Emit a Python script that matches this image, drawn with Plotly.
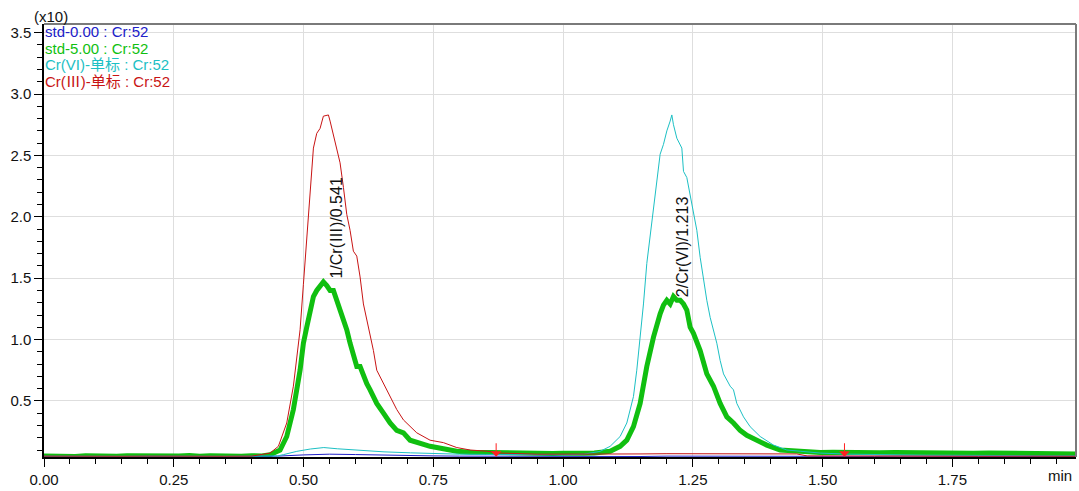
import plotly.graph_objects as go

# ---------------- data (intensity in x10) ----------------
blue_t = [0.00, 0.05, 0.10, 0.15, 0.20, 0.25, 0.30, 0.35, 0.40, 0.45, 0.50, 0.55, 0.60, 0.65,
          0.70, 0.75, 0.80, 0.85, 0.90, 0.95, 1.00, 1.05, 1.10, 1.15, 1.20, 1.25, 1.30, 1.35,
          1.40, 1.45, 1.50, 1.55, 1.60, 1.65, 1.70, 1.75, 1.80, 1.85, 1.90, 1.95, 1.988]
blue_v = [0.048, 0.046, 0.049, 0.047, 0.048, 0.046, 0.049, 0.047, 0.048, 0.050, 0.060, 0.066, 0.063, 0.058,
          0.055, 0.052, 0.050, 0.049, 0.048, 0.050, 0.047, 0.049, 0.048, 0.047, 0.050, 0.049, 0.048, 0.047,
          0.049, 0.048, 0.047, 0.049, 0.048, 0.050, 0.047, 0.049, 0.048, 0.047, 0.049, 0.048, 0.048]

green_t = [0.00, 0.02, 0.04, 0.06, 0.08, 0.10, 0.12, 0.14, 0.16, 0.18, 0.20, 0.22, 0.24, 0.26,
           0.28, 0.30, 0.32, 0.34, 0.36, 0.38, 0.40, 0.42, 0.4355, 0.4547, 0.4676, 0.4804,
           0.4933, 0.4997, 0.5061, 0.5125, 0.5190, 0.5254, 0.5318, 0.5382, 0.5447, 0.5511,
           0.5575, 0.5639, 0.5703, 0.5768, 0.5832, 0.5896, 0.5960, 0.6025, 0.6089, 0.6153,
           0.6218, 0.6282, 0.6410, 0.6539, 0.6667, 0.6795, 0.6924, 0.7052, 0.7181, 0.7437,
           0.7694, 0.7951, 0.8208, 0.84, 0.86, 0.88, 0.90, 0.92, 0.94, 0.96, 0.98, 1.00, 1.02,
           1.04, 1.06, 1.0713, 1.0906, 1.1098, 1.1227, 1.1355, 1.1484, 1.1612, 1.1741, 1.1869,
           1.1933, 1.1998, 1.2062, 1.2126, 1.2191, 1.2255, 1.2319, 1.2383, 1.2415, 1.2447,
           1.2511, 1.2640, 1.2768, 1.2897, 1.3025, 1.3154, 1.3282, 1.3410, 1.3539, 1.3732,
           1.3924, 1.4181, 1.4567, 1.4952, 1.52, 1.55, 1.58, 1.61, 1.64, 1.67, 1.70, 1.73,
           1.76, 1.79, 1.82, 1.85, 1.88, 1.91, 1.94, 1.97, 1.988]
green_v = [0.052, 0.049, 0.055, 0.048, 0.053, 0.050, 0.056, 0.049, 0.053, 0.051, 0.055, 0.048, 0.054, 0.051,
           0.056, 0.049, 0.053, 0.050, 0.055, 0.049, 0.053, 0.052, 0.062, 0.10, 0.21, 0.43,
           0.75, 0.97, 1.10, 1.24, 1.35, 1.40, 1.44, 1.47, 1.44, 1.40,
           1.40, 1.32, 1.26, 1.18, 1.08, 0.97, 0.89, 0.78, 0.78, 0.70,
           0.64, 0.59, 0.48, 0.40, 0.32, 0.26, 0.24, 0.18, 0.16, 0.13,
           0.11, 0.09, 0.082, 0.080, 0.078, 0.076, 0.074, 0.077, 0.073, 0.075, 0.072, 0.074, 0.071,
           0.074, 0.076, 0.078, 0.089, 0.13, 0.18, 0.29, 0.48, 0.78, 1.02, 1.21,
           1.28, 1.32, 1.29, 1.35, 1.32, 1.32, 1.29, 1.24, 1.18, 1.10,
           1.05, 0.91, 0.72, 0.62, 0.48, 0.37, 0.32, 0.26, 0.22, 0.18,
           0.14, 0.10, 0.085, 0.080, 0.082, 0.078, 0.080, 0.077, 0.079, 0.076, 0.078, 0.075,
           0.077, 0.074, 0.076, 0.073, 0.075, 0.072, 0.071, 0.070, 0.068]

cyan_t = [0.00, 0.05, 0.10, 0.15, 0.20, 0.25, 0.30, 0.35, 0.40, 0.45, 0.461, 0.487, 0.513, 0.539,
          0.565, 0.603, 0.655, 0.706, 0.757, 0.80, 0.85, 0.90, 0.95, 1.00, 1.04, 1.0713, 1.0906,
          1.1098, 1.1227, 1.1355, 1.1419, 1.1484, 1.1548, 1.1612, 1.1676, 1.1741, 1.1805,
          1.1869, 1.1933, 1.1998, 1.2062, 1.2094, 1.2126, 1.2191, 1.2287, 1.2319, 1.2383,
          1.2447, 1.2511, 1.2576, 1.2640, 1.2704, 1.2768, 1.2833, 1.2897, 1.2961, 1.3025,
          1.3090, 1.3218, 1.3282, 1.3346, 1.3475, 1.3603, 1.3796, 1.4053, 1.4310, 1.4567,
          1.4952, 1.55, 1.60, 1.65, 1.70, 1.75, 1.80, 1.85, 1.90, 1.95, 1.988]
cyan_v = [0.050, 0.048, 0.051, 0.049, 0.050, 0.048, 0.051, 0.049, 0.050, 0.052, 0.062, 0.089, 0.108, 0.120,
          0.110, 0.097, 0.085, 0.077, 0.070, 0.066, 0.064, 0.062, 0.063, 0.061, 0.066, 0.089, 0.13,
          0.21, 0.32, 0.535, 0.75, 1.02, 1.29, 1.62, 1.83, 2.05, 2.29,
          2.51, 2.59, 2.70, 2.78, 2.83, 2.75, 2.64, 2.56, 2.37, 2.32,
          2.18, 2.05, 1.89, 1.67, 1.48, 1.32, 1.18, 1.08, 0.97, 0.83,
          0.72, 0.62, 0.59, 0.48, 0.37, 0.29, 0.21, 0.14, 0.10, 0.09,
          0.075, 0.066, 0.062, 0.060, 0.058, 0.057, 0.056, 0.055, 0.054, 0.053, 0.052]

red_t = [0.00, 0.05, 0.10, 0.15, 0.20, 0.25, 0.30, 0.35, 0.40, 0.4355, 0.4515, 0.4676, 0.4804,
         0.4933, 0.4997, 0.5061, 0.5125, 0.5190, 0.5254, 0.5318, 0.5382, 0.5479, 0.5511,
         0.5575, 0.5639, 0.5703, 0.5768, 0.5832, 0.5896, 0.5960, 0.6025, 0.6089, 0.6153,
         0.6218, 0.6282, 0.6346, 0.6410, 0.6539, 0.6667, 0.6795, 0.6924, 0.7052, 0.7181,
         0.7437, 0.7694, 0.7951, 0.8208, 0.853, 0.88, 0.95, 1.00, 1.05, 1.10, 1.15, 1.20,
         1.25, 1.30, 1.35, 1.40, 1.45, 1.47, 1.55, 1.60, 1.70, 1.80, 1.90, 1.988]
red_v = [0.050, 0.048, 0.051, 0.049, 0.050, 0.048, 0.051, 0.049, 0.050, 0.075, 0.13, 0.32, 0.62,
         1.08, 1.45, 1.83, 2.24, 2.56, 2.68, 2.72, 2.82, 2.83, 2.78,
         2.67, 2.56, 2.44, 2.24, 2.02, 1.89, 1.72, 1.68, 1.51, 1.29,
         1.16, 1.02, 0.91, 0.75, 0.64, 0.535, 0.43, 0.345, 0.29, 0.24,
         0.18, 0.16, 0.12, 0.10, 0.09, 0.075, 0.066, 0.065, 0.064, 0.066, 0.068, 0.070,
         0.069, 0.071, 0.070, 0.069, 0.068, 0.052, 0.050, 0.049, 0.050, 0.049, 0.050, 0.049]

R3 = '<span style="font-family:Noto Sans CJK SC">Ⅲ</span>'
series_names = ["std-0.00 : Cr:52", "std-5.00 : Cr:52", "Cr(VI)-单标 : Cr:52", "Cr(" + R3 + ")-单标 : Cr:52"]
peak_labels = ["1/Cr(" + R3 + ")/0.541", "2/Cr(VI)/1.213"]
peak_label_t = [0.561, 1.229]
peak_label_v = [1.478, 1.333]
marker_t = [0.871, 1.542]
x_ticks = [0.00, 0.25, 0.50, 0.75, 1.00, 1.25, 1.50, 1.75]
y_ticks = [0.5, 1.0, 1.5, 2.0, 2.5, 3.0, 3.5]

C_BLUE = "#2020c8"
C_GREEN = "#10bf10"
C_CYAN = "#1cc0c4"
C_RED = "#c81414"
FONT = "Liberation Sans, Arial, Noto Sans CJK SC, sans-serif"

fig = go.Figure()
fig.add_trace(go.Scatter(x=green_t, y=green_v, mode="lines", line=dict(color=C_GREEN, width=5),
                         name=series_names[1], showlegend=False, hoverinfo="skip"))
fig.add_trace(go.Scatter(x=blue_t, y=blue_v, mode="lines", line=dict(color=C_BLUE, width=1),
                         name=series_names[0], showlegend=False, hoverinfo="skip"))
fig.add_trace(go.Scatter(x=cyan_t, y=cyan_v, mode="lines", line=dict(color=C_CYAN, width=1),
                         name=series_names[2], showlegend=False, hoverinfo="skip"))
fig.add_trace(go.Scatter(x=red_t, y=red_v, mode="lines", line=dict(color=C_RED, width=1),
                         name=series_names[3], showlegend=False, hoverinfo="skip"))

ann = []
# legend as coloured text
leg_y = [0.9816, 0.9425, 0.9057, 0.869]
leg_c = [C_BLUE, C_GREEN, C_CYAN, C_RED]
for name, yy, cc in zip(series_names, leg_y, leg_c):
    ann.append(dict(xref="paper", yref="paper", x=0, y=yy, xanchor="left", yanchor="middle",
                    text=name, showarrow=False, borderpad=0,
                    font=dict(family=FONT, size=15, color=cc)))
# peak labels
for lab, tx, vy in zip(peak_labels, peak_label_t, peak_label_v):
    ann.append(dict(x=tx, y=vy, xref="x", yref="y", text=lab, textangle=-90, showarrow=False,
                    xanchor="center", yanchor="bottom", font=dict(family=FONT, size=16, color="#111111")))
# integration markers
for mt in marker_t:
    ann.append(dict(x=mt, y=0.045, xref="x", yref="y", text="", showarrow=True, ax=0, ay=-15,
                    arrowhead=1, arrowsize=1.8, arrowwidth=1, arrowcolor="#ff2020"))
ann.append(dict(xref="paper", yref="paper", x=0.0068, y=1.0184, text="(x10)", showarrow=False,
                xanchor="center", yanchor="middle", font=dict(family=FONT, size=15, color="#111111")))
ann.append(dict(xref="paper", yref="paper", x=0.998, y=-0.0437, text="min", showarrow=False,
                xanchor="right", yanchor="middle", font=dict(family=FONT, size=15, color="#111111")))

fig.update_layout(
    width=1079, height=491,
    margin=dict(l=44, r=3, t=24, b=32),
    paper_bgcolor="white", plot_bgcolor="white",
    font=dict(family=FONT, size=15, color="#111111"),
    annotations=ann,
    hovermode=False,
    shapes=[dict(type="line", xref="paper", yref="paper", x0=0, x1=1, y0=1, y1=1,
                 line=dict(color="#7a7a7a", width=2)),
            dict(type="line", xref="paper", yref="paper", x0=1, x1=1, y0=0, y1=1,
                 line=dict(color="#7a7a7a", width=2))],
    xaxis=dict(range=[0, 1.988], tickvals=x_ticks, tickformat=".2f", showgrid=True,
               gridcolor="#dedede", gridwidth=1, showline=True, linecolor="black", linewidth=1.5,
               ticks="outside", ticklen=8, tickcolor="black", zeroline=False,
               tickfont=dict(family=FONT, size=15, color="#111111"),
               minor=dict(dtick=0.05, tick0=0, ticks="outside", ticklen=5, tickcolor="black", showgrid=False)),
    yaxis=dict(range=[0.043, 3.571], tickvals=y_ticks, tickformat=".1f", showgrid=True,
               gridcolor="#dedede", gridwidth=1, showline=True, linecolor="black", linewidth=1.5,
               ticks="outside", ticklen=8, tickcolor="black", zeroline=False,
               tickfont=dict(family=FONT, size=15, color="#111111"),
               minor=dict(dtick=0.1, tick0=0, ticks="outside", ticklen=5, tickcolor="black", showgrid=False)),
)

fig.write_html("out.html", config={"displayModeBar": False},
               post_script="document.body.style.margin='0';document.body.style.overflow='hidden';")
